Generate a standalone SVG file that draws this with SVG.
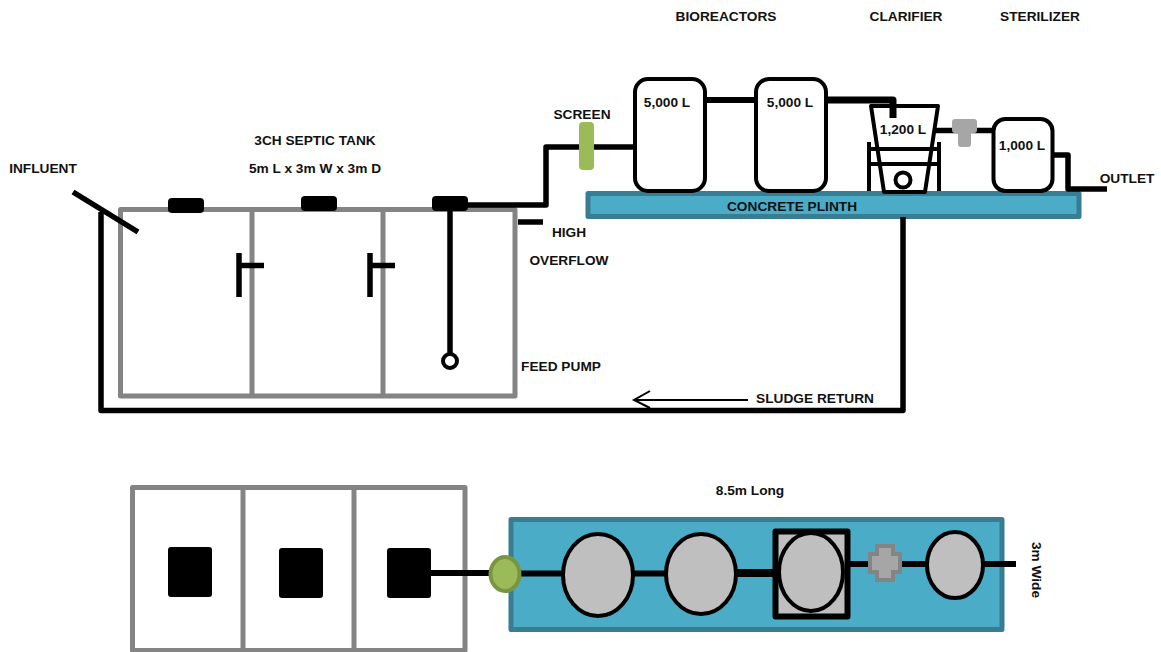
<svg xmlns="http://www.w3.org/2000/svg" width="1161" height="652" viewBox="0 0 1161 652">
<style>
text{font-family:"Liberation Sans",Arial,sans-serif;font-weight:700;font-size:13.7px;fill:#111;text-anchor:middle}
.tank{fill:none;stroke:#848484;stroke-width:5;stroke-linejoin:round}
.pipe{fill:none;stroke:#000;stroke-width:5.500;stroke-linejoin:round}
.thin{fill:none;stroke:#000;stroke-width:4;stroke-linejoin:round}
.vessel{fill:#fff;stroke:#000;stroke-width:4}
.plinth{fill:#4aacc6;stroke:#387d92;stroke-width:5;stroke-linejoin:round}
.oval{fill:#bfbfbf;stroke:#000;stroke-width:4}
.green{fill:#9bbb59;stroke:#7a9540;stroke-width:4}
.k{fill:#000}
</style>
<g id="septic-tank">
<rect class="tank" x="120.500" y="209.500" width="394.500" height="186.500"/>
<path class="tank" d="M252 209.500V396M383 209.500V396"/>
<rect class="k" x="168" y="198" width="36" height="15" rx="4"/>
<rect class="k" x="301" y="196" width="36" height="15" rx="4"/>
<rect class="k" x="432" y="196" width="36" height="15" rx="4"/>
<path class="pipe" d="M239 253V297M239 265.500H264M370 253V297M370 265.500H395"/>
</g>
<g id="plinth"><rect class="plinth" x="588" y="193.500" width="491" height="23" /></g>
<g id="connectors">
<path class="pipe" d="M73 192L138 232"/>
<path class="pipe" d="M101 212V410.500H903V217"/>
<path class="pipe" d="M450 205V355"/>
<path class="pipe" d="M468 205H546V147H634"/>
<path class="pipe" d="M518 222H543"/>
<path d="M707 100H754" fill="none" stroke="#000" stroke-width="6"/>
<path d="M828 100H893V118" fill="none" stroke="#000" stroke-width="7" stroke-linejoin="round"/>
<path class="pipe" d="M935 130.500H992"/>
<path class="pipe" d="M1054 155H1068V189H1107"/>
<path d="M748 400H635M650 391L634 400L650 408" fill="none" stroke="#000" stroke-width="2"/>
</g>
<g id="pump"><circle cx="450" cy="361" r="7" fill="#fff" stroke="#000" stroke-width="4"/></g>
<g id="screen"><rect x="579" y="122" width="15" height="48" rx="4" fill="#9bbb59"/></g>
<g id="bioreactor-1"><rect class="vessel" x="635" y="79" width="70" height="112" rx="13"/><text x="667" y="107">5,000 L</text></g>
<g id="bioreactor-2"><rect class="vessel" x="756" y="79" width="70" height="112" rx="13"/><text x="790" y="107">5,000 L</text></g>
<g id="clarifier">
<path class="thin" d="M871 106H938L925 192H884Z"/>
<path class="thin" d="M869 142V191M939 142V191M869 149H939M869 164H939"/>
<circle cx="903" cy="180" r="7.500" fill="#fff" stroke="#000" stroke-width="4"/>
<text x="903" y="134">1,200 L</text>
</g>
<g id="uv-tee"><path d="M955 119H974Q977 119 977 122V130Q977 133 974 133H971V144Q971 147 968 147H961Q958 147 958 144V133H955Q952 133 952 130V122Q952 119 955 119Z" fill="#a6a6a6"/></g>
<g id="sterilizer"><rect class="vessel" x="993.500" y="119" width="59" height="72" rx="12"/><text x="1022" y="150">1,000 L</text></g>
<g id="plan-tank">
<rect class="tank" x="132.500" y="487.500" width="332.500" height="163"/>
<path class="tank" d="M243 487.500V650.500M354 487.500V650.500"/>
<rect class="k" x="168" y="547" width="44" height="50" rx="3"/>
<rect class="k" x="279" y="548" width="44" height="50" rx="3"/>
<rect class="k" x="387" y="548" width="44" height="50" rx="3"/>
</g>
<g id="plan-plinth"><rect class="plinth" x="511" y="519.500" width="491" height="110"/></g>
<g id="plan-connectors">
<path d="M431 573H495" fill="none" stroke="#000" stroke-width="6"/>
<path d="M520 573.500H735" fill="none" stroke="#000" stroke-width="6"/>
<path d="M735 573H775" fill="none" stroke="#000" stroke-width="8"/>
<path d="M850 564H930M982 564H1016" fill="none" stroke="#000" stroke-width="6"/>
</g>
<g id="plan-screen"><ellipse class="green" cx="505" cy="574" rx="14.500" ry="17"/></g>
<g id="plan-bio-1"><ellipse class="oval" cx="598" cy="575" rx="35" ry="41"/></g>
<g id="plan-bio-2"><ellipse class="oval" cx="701" cy="574" rx="35" ry="40"/></g>
<g id="plan-clarifier"><rect x="775.500" y="531.500" width="72" height="85" fill="#bfbfbf" stroke="#000" stroke-width="6" stroke-linejoin="round"/><ellipse class="oval" cx="811" cy="572" rx="32" ry="39"/></g>
<g id="plan-uv"><path d="M877 546H893V554H900V572H893V580H877V572H870V554H877Z" fill="#a6a6a6" stroke="#848484" stroke-width="4"/></g>
<g id="plan-sterilizer"><ellipse class="oval" cx="955" cy="565" rx="28" ry="33"/></g>
<g id="labels">
<text x="43" y="173">INFLUENT</text>
<text x="315" y="145">3CH SEPTIC TANK</text>
<text x="315" y="173">5m L x 3m W x 3m D</text>
<text x="582" y="119">SCREEN</text>
<text x="726" y="21">BIOREACTORS</text>
<text x="906" y="21">CLARIFIER</text>
<text x="1040" y="21">STERILIZER</text>
<text x="1127" y="183">OUTLET</text>
<text x="792" y="211">CONCRETE PLINTH</text>
<text x="569" y="237">HIGH</text>
<text x="569" y="265">OVERFLOW</text>
<text x="561" y="371">FEED PUMP</text>
<text x="815" y="403">SLUDGE RETURN</text>
<text x="750" y="495">8.5m Long</text>
<text transform="translate(1032 570) rotate(90)">3m Wide</text>
</g>
</svg>
